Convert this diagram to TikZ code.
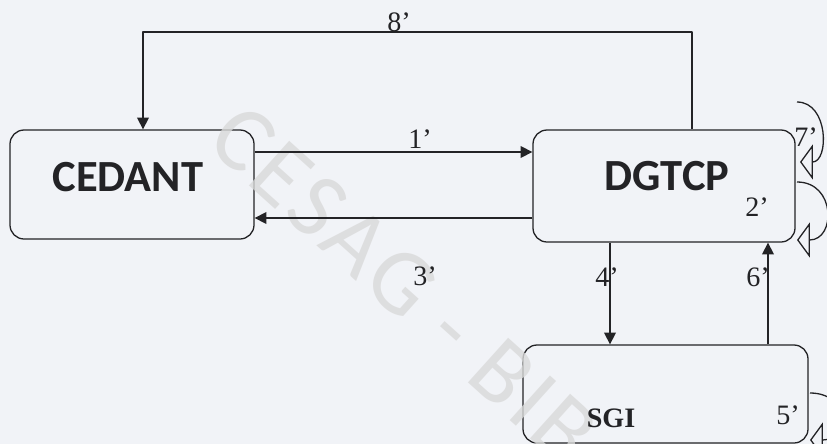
\documentclass[tikz,border=0pt]{standalone}
\usepackage{fontspec}
\setmainfont{Liberation Serif}
\newfontfamily\boxfont{Carlito}
\usetikzlibrary{arrows.meta}

\definecolor{paper}{RGB}{241,243,247}
\definecolor{ink}{RGB}{35,35,38}

\tikzset{
  box/.style={draw=ink,line width=1.1pt,rounded corners=12pt,fill=paper,inner sep=0pt},
  boxname/.style={font=\boxfont\fontsize{38}{40}\selectfont\bfseries,text=ink,inner sep=0pt},
  flow/.style={-{Triangle[length=10pt,width=10pt]},draw=ink,line width=1.1pt},
  selfloop/.style={-{Triangle[open,length=11pt,width=30pt]},draw=ink,line width=1.1pt},
  steplbl/.style={font=\fontsize{24}{25}\selectfont,text=ink,inner sep=0pt},
}

\begin{document}
\begin{tikzpicture}[x=0.03cm,y=-0.03cm,line join=round]
  \clip (0,0) rectangle (827,444);
  \fill[paper] (0,0) rectangle (827,444);
  % boxes
  \node[box,minimum width=7.32cm,minimum height=3.27cm] (cedant) at (132,184.5) {};
  \node[box,minimum width=7.86cm,minimum height=3.36cm] (dgtcp) at (664,186) {};
  \node[box,minimum width=8.55cm,minimum height=2.94cm] (sgi) at (665.5,394) {};
  % watermark of the scan
  \node[font=\boxfont\fontsize{80}{82}\selectfont\addfontfeature{LetterSpace=5},text=gray!30,opacity=0.8,rotate=-42,anchor=west,inner sep=0pt] (wm) at (224,122) {CESAG - BIB};
  \node[boxname] (cedant-txt) at (128,177) {CEDANT};
  \node[boxname] (dgtcp-txt) at (667,176) {DGTCP};
  \node[font=\fontsize{24}{25}\selectfont\bfseries,text=ink,inner sep=0pt] (sgi-txt) at (611,418) {SGI};
  % helper coordinates
  \coordinate (y1) at (0,152);
  \coordinate (y3) at (0,218);
  \coordinate (x4) at (610,0);
  \coordinate (x6) at (768,0);
  \coordinate (r8) at (692,32);
  \coordinate (l8) at (143,32);
  % flows
  \draw[flow] (cedant.east |- y1) -- (dgtcp.west |- y1);
  \draw[flow] (dgtcp.west |- y3) -- (cedant.east |- y3);
  \draw[flow] (dgtcp.south -| x4) -- (sgi.north -| x4);
  \draw[flow] (sgi.north -| x6) -- (dgtcp.south -| x6);
  \draw[flow] (r8 |- dgtcp.north) -- (r8) -- (l8) -- (l8 |- cedant.north);
  % self loops
  \coordinate (loop7a) at (797,102);
  \coordinate (loop7b) at (800,162);
  \coordinate (loop2a) at (797,182);
  \coordinate (loop2b) at (797,240);
  \coordinate (loop5a) at (810,393);
  \coordinate (loop5b) at (810,440);
  \draw[selfloop] (loop7a) .. controls (829,102) and (829,162) .. (loop7b);
  \draw[selfloop] (loop2a) .. controls (836,182) and (836,240) .. (loop2b);
  \draw[selfloop] (loop5a) .. controls (850,393) and (850,440) .. (loop5b);
  % labels
  \node[steplbl] (lbl1) at (420,139) {1’};
  \node[steplbl] (lbl2) at (757,207) {2’};
  \node[steplbl] (lbl3) at (425,276) {3’};
  \node[steplbl] (lbl4) at (607,277) {4’};
  \node[steplbl] (lbl5) at (788,415) {5’};
  \node[steplbl] (lbl6) at (758,277) {6’};
  \node[steplbl] (lbl7) at (806,137) {7’};
  \node[steplbl] (lbl8) at (399,22) {8’};
\end{tikzpicture}
\end{document}
